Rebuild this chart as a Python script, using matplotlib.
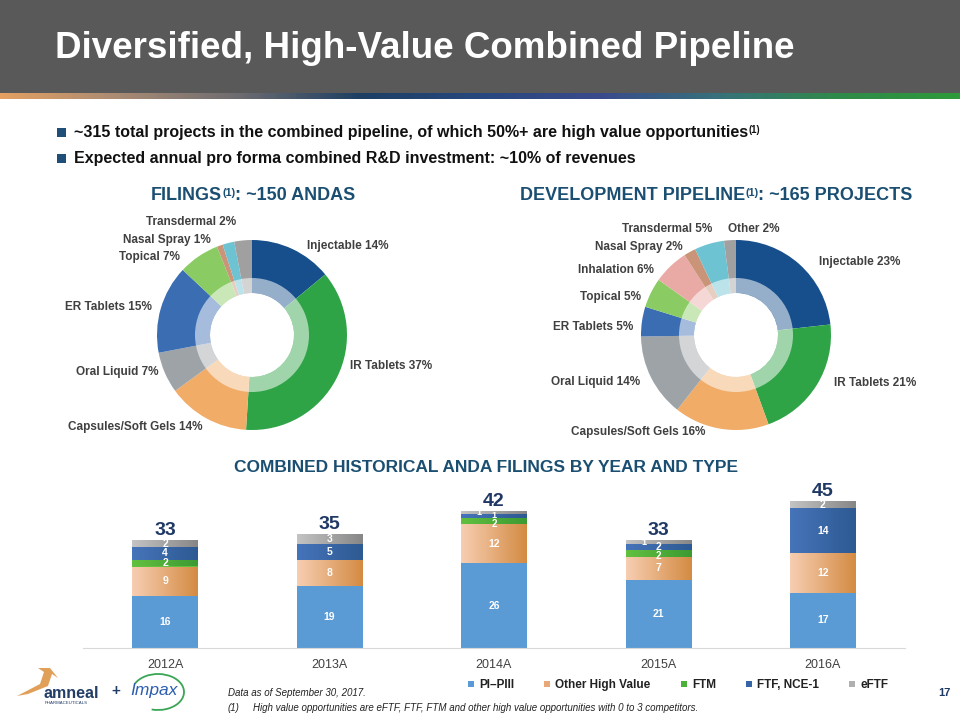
import numpy as np
import matplotlib.pyplot as plt
from matplotlib.patches import Rectangle, Wedge, Arc, Polygon
from matplotlib.colors import LinearSegmentedColormap
from matplotlib.lines import Line2D

# ---- data ----
filing_labels = ["Injectable", "IR Tablets", "Capsules/Soft Gels", "Oral Liquid",
                 "ER Tablets", "Topical", "Nasal Spray", "Transdermal", ""]
filing_pct = [14, 37, 14, 7, 15, 7, 1, 2, 3]

dev_labels = ["Injectable", "IR Tablets", "Capsules/Soft Gels", "Oral Liquid",
              "ER Tablets", "Topical", "Inhalation", "Nasal Spray", "Transdermal", "Other"]
dev_pct = [23, 21, 16, 14, 5, 5, 6, 2, 5, 2]

years = ["2012A", "2013A", "2014A", "2015A", "2016A"]
pi_piii = [16, 19, 26, 21, 17]
other_hv = [9, 8, 12, 7, 12]
ftm = [2, 0, 2, 2, 0]
ftf_nce1 = [4, 5, 1, 2, 14]
eftf = [2, 3, 1, 1, 2]
series_names = ["PI\u2013PIII", "Other High Value", "FTM", "FTF, NCE-1", "eFTF"]

# ---- styles ----
SANS = ["Liberation Sans", "DejaVu Sans"]
NAVY = "#1f3864"
TEAL = "#1b4f72"
GREY_TXT = "#404040"

seg_colors = {
    "Injectable": "#164f8c", "IR Tablets": "#2fa447", "Capsules/Soft Gels": "#f1ac68",
    "Oral Liquid": "#9ea3a8", "ER Tablets": "#3b6db3", "Topical": "#8acb63",
    "Nasal Spray": "#c99478", "Transdermal": "#6ec3d2", "Inhalation": "#e9aaa6",
    "Other": "#a0a0a0", "": "#a0a0a0",
}
# gradient pairs (left, right) for each bar series
bar_grad = [("#5b9bd5", "#5b9bd5"), ("#f7ceb2", "#d48b43"), ("#62c040", "#3c9a33"),
            ("#4674ba", "#2d5a92"), ("#c3c3c3", "#878787")]
legend_colors = ["#5b9bd5", "#e8a878", "#4cb03a", "#3565a5", "#b0b0b0"]

# label offsets around each donut (pixels from centre, alignment) - layout only
filing_pos = [(55, 89, "left"), (98, -31, "left"), (-49, -92, "right"), (-94, -37, "right"),
              (-100, 28, "right"), (-72, 78, "right"), (-41, 95, "right"), (-16, 113, "right"),
              None]
dev_pos = [(83, 73, "left"), (98, -48, "left"), (-31, -97, "right"), (-96, -47, "right"),
           (-103, 8, "right"), (-95, 38, "right"), (-82, 65, "right"), (-53, 88, "right"),
           (-24, 106, "right"), (-8, 106, "left")]

W, H = 960, 720
fig = plt.figure(figsize=(9.6, 7.2), dpi=100)
fig.patch.set_facecolor("white")

# background axes in pixel units
bg = fig.add_axes([0, 0, 1, 1], zorder=0)
bg.set_xlim(0, W)
bg.set_ylim(H, 0)
bg.axis("off")

bg.add_patch(Rectangle((0, 0), W, 93, color="#595959", lw=0))
stripe = LinearSegmentedColormap.from_list(
    "stripe", ["#e4a062", "#a88a74", "#6b6b70", "#1d3f63", "#27487e", "#3a4a8c",
               "#37717a", "#2f8a4a", "#2e9a3a"])
bg.imshow(np.linspace(0, 1, 256)[None, :], cmap=stripe, aspect="auto",
          extent=(0, W, 99, 93))
bg.set_xlim(0, W)
bg.set_ylim(H, 0)

bg.text(55, 49, "Diversified, High-Value Combined Pipeline", color="white",
        fontsize=26.5, fontweight="bold", family=SANS, va="center", ha="left")


def text_with_sup(x, y, parts, size, color, family, ha="left"):
    """parts: list of (text, is_sup)"""
    prev = None
    first = None
    for txt, sup in parts:
        if prev is None:
            prev = bg.text(x, y, txt, fontsize=size, color=color, fontweight="bold",
                           family=family, va="center", ha=ha)
            first = prev
        elif sup:
            prev = bg.annotate(txt, xy=(1, 0.95), xycoords=prev, fontsize=size * 0.6,
                               color=color, fontweight="bold", family=family,
                               va="top", ha="left")
        else:
            prev = bg.annotate(txt, xy=(1, 0), xycoords=(prev, first), fontsize=size,
                               color=color, fontweight="bold", family=family,
                               va="bottom", ha="left")
    return first


# bullets
for yb, parts in [(132, [("~315 total projects in the combined pipeline, of which 50%+ are high value opportunities", False), ("(1)", True)]),
                  (158, [("Expected annual pro forma combined R&D investment: ~10% of revenues", False)])]:
    bg.add_patch(Rectangle((57, yb - 4.5), 9, 9, color="#1f4e79", lw=0))
    text_with_sup(74, yb, parts, 11.5, "#111111", SANS)

# section titles
text_with_sup(151, 196, [("FILINGS", False), ("(1)", True), (": ~150 ANDAS", False)],
              13, TEAL, SANS)
text_with_sup(520, 196, [("DEVELOPMENT PIPELINE", False), ("(1)", True), (": ~165 PROJECTS", False)],
              13, TEAL, SANS)
bg.text(486, 467, "COMBINED HISTORICAL ANDA FILINGS BY YEAR AND TYPE", fontsize=12.5,
        fontweight="bold", color=TEAL, family=SANS, ha="center", va="center")


# ---- donuts ----
def donut(cx, cy, labels, pcts, positions):
    R = 95
    ax = fig.add_axes([(cx - 100) / W, (H - cy - 100) / H, 200 / W, 200 / H], zorder=2)
    ax.set_xlim(-100, 100)
    ax.set_ylim(-100, 100)
    ax.set_aspect("equal")
    ax.axis("off")
    ax.pie(pcts, radius=R, startangle=90, counterclock=False,
           colors=[seg_colors[l] for l in labels],
           wedgeprops=dict(width=R - 42, linewidth=0))
    ax.add_patch(Wedge((0, 0), 57, 0, 360, width=15, facecolor="white", alpha=0.55, lw=0))
    ax.set_xlim(-100, 100)
    ax.set_ylim(-100, 100)
    for lab, p, pos in zip(labels, pcts, positions):
        if pos is None or not lab:
            continue
        dx, dy, al = pos
        ax.text(dx, dy, f"{lab} {p}%", ha=al, va="center", fontsize=8.5,
                fontweight="bold", color=GREY_TXT, family=SANS, clip_on=False)


donut(252, 335, filing_labels, filing_pct, filing_pos)
donut(736, 335, dev_labels, dev_pct, dev_pos)

# ---- stacked bars ----
bx = fig.add_axes([83 / W, (H - 648) / H, 822 / W, 163 / H], zorder=2)
x = np.arange(len(years))
series = [pi_piii, other_hv, ftm, ftf_nce1, eftf]
bottom = np.zeros(len(years))
for si, (vals, (c0, c1)) in enumerate(zip(series, bar_grad)):
    bars = bx.bar(x, vals, width=0.4, bottom=bottom, color=c0, linewidth=0)
    cmap = LinearSegmentedColormap.from_list("g", [c0, c1])
    for i, (b, v) in enumerate(zip(bars, vals)):
        if v == 0:
            continue
        x0, y0 = b.get_x(), b.get_y()
        im = bx.imshow(np.linspace(0, 1, 64)[None, :], cmap=cmap, aspect="auto",
                       extent=(x0, x0 + b.get_width(), y0, y0 + b.get_height()), zorder=2)
        im.set_clip_path(b)
        tx = x0 + b.get_width() / 2
        ty = y0 + v / 2
        fs = 7.5
        if v == 1:
            fs = 6.5
            if si == 4:
                tx -= 0.09
        # thin FTM slice under a thin FTF slice: nudge label down like the original
        if si == 2 and ftf_nce1[i] <= 2:
            ty -= 0.9
            fs = 7
        bx.text(tx, ty, str(v), ha="center", va="center",
                fontsize=fs, fontweight="bold", color="white", family=SANS, zorder=3)
    bottom += np.array(vals)

for xi, tot in zip(x, bottom):
    bx.text(xi, tot + 0.4, str(int(tot)), ha="center", va="bottom", fontsize=14,
            fontweight="bold", color=NAVY, family=SANS)

bx.set_xlim(-0.5, len(years) - 0.5)
bx.set_ylim(0, 50)
bx.set_xticks(x)
bx.set_xticklabels(years, fontsize=9, color=GREY_TXT, family=SANS)
bx.tick_params(axis="x", length=0, pad=8)
bx.set_yticks([])
for s in ["top", "left", "right"]:
    bx.spines[s].set_visible(False)
bx.spines["bottom"].set_color("#d9d9d9")
bx.set_facecolor("none")

handles = [Line2D([], [], marker="s", linestyle="", markersize=5, markerfacecolor=c,
                  markeredgewidth=0) for c in legend_colors]
fig.legend(handles, series_names, loc="center", bbox_to_anchor=(676 / W, 1 - 685 / H),
           ncol=5, frameon=False, handletextpad=0.1, handlelength=1.2, columnspacing=2.2,
           prop=dict(family=SANS, weight="bold", size=8.5), labelcolor="#222222")

# ---- footer ----
bg.text(228, 693, "Data as of September 30, 2017.", fontsize=7, style="italic",
        family=SANS, color="#222222", va="center")
bg.text(228, 708, "(1)", fontsize=7, style="italic", family=SANS, color="#222222", va="center")
bg.text(253, 708, "High value opportunities are eFTF, FTF, FTM and other high value opportunities with 0 to 3 competitors.",
        fontsize=7, style="italic", family=SANS, color="#222222", va="center")
bg.text(944, 693, "17", fontsize=8, fontweight="bold", family=SANS, color=NAVY,
        ha="center", va="center")

# logo
bg.add_patch(Polygon([(17, 696), (40, 684), (44, 672), (38, 668), (50, 668), (58, 678),
                      (52, 674), (48, 686), (28, 694)], closed=True, color="#e1a05a", lw=0))
bg.text(44, 693, "amneal", fontsize=11.5, fontweight="bold", family=SANS, color="#223d66",
        va="center", ha="left")
bg.text(45, 703, "PHARMACEUTICALS", fontsize=3.2, family=SANS, color="#223d66",
        va="center", ha="left")
bg.text(116, 691, "+", fontsize=11, fontweight="bold", family=SANS, color="#223d66",
        va="center", ha="center")
bg.text(130, 691, "Impax", fontsize=12.5, style="italic", family=SANS, color="#2d5fae",
        va="center", ha="left")
bg.add_patch(Arc((158, 692), 52, 36, theta1=200, theta2=110, color="#3aa655", lw=1.3))

fig.savefig("out.png", dpi=100)
